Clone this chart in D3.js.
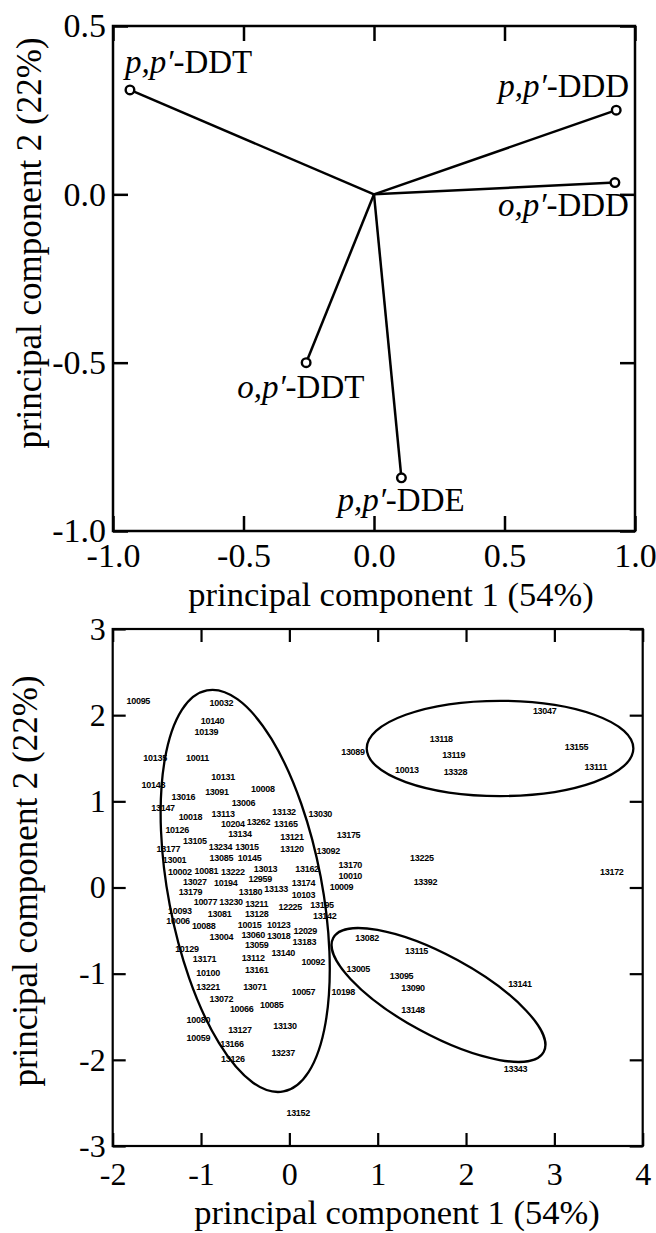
<!DOCTYPE html>
<html>
<head>
<meta charset="utf-8">
<script src="https://cdn.jsdelivr.net/npm/d3@7"></script>
<style>
  html, body { margin: 0; padding: 0; background: #fff; }
  svg text { fill: #000; }
</style>
</head>
<body>
<div id="viz"></div>
<script>
// PCA loadings of the five DDT-related compounds
const compounds = ["p,p′-DDT", "p,p′-DDD", "o,p′-DDD", "o,p′-DDT", "p,p′-DDE"];
const loadPC1 = [-0.935, 0.928, 0.923, -0.26, 0.105];
const loadPC2 = [0.31, 0.25, 0.035, -0.50, -0.842];
const loadTicksX = [-1.0, -0.5, 0.0, 0.5, 1.0];
const loadTicksY = [0.5, 0.0, -0.5, -1.0];

// PCA scores of the samples
const sampleIds = [
  "10095","10032","10140","10139","10135","10011","10131","10148","13091","10008",
  "13016","13006","13147","10018","13113","13132","13030","10204","13262","13165",
  "10126","13134","13121","13175","13105","13177","13234","13015","13120","13092",
  "13001","13085","10145","13013","13170","13162","10010","10002","10081","13222",
  "12959","13027","10194","13174","10009","13179","13180","13133","13230","10103",
  "13195","13142","10077","13211","12225","10093","13081","13128","10006","10015",
  "10123","10088","13004","13060","13018","12029","13059","13183","13140","10129",
  "13171","13112","10092","10100","13161","13221","13071","10057","10198","13072",
  "10066","10085","10080","13130","13127","10059","13166","13126","13237","13152",
  "13089","13118","13119","10013","13328","13047","13155","13111","13225","13392",
  "13172","13082","13115","13005","13095","13090","13148","13141","13343"
];
const scorePC1 = [
  -1.71,-0.77,-0.87,-0.94,-1.52,-1.04,-0.75,-1.54,-0.82,-0.30,
  -1.20,-0.52,-1.43,-1.12,-0.75,-0.06,0.35,-0.64,-0.35,-0.04,
  -1.27,-0.56,0.03,0.67,-1.07,-1.37,-0.78,-0.48,0.03,0.44,
  -1.30,-0.77,-0.45,-0.27,0.69,0.20,0.69,-1.24,-0.94,-0.64,
  -0.33,-1.07,-0.72,0.16,0.59,-1.12,-0.44,-0.15,-0.66,0.16,
  0.37,0.40,-0.95,-0.37,0.01,-1.24,-0.79,-0.37,-1.26,-0.45,
  -0.12,-0.97,-0.77,-0.41,-0.12,0.18,-0.37,0.17,-0.07,-1.16,
  -0.96,-0.41,0.27,-0.92,-0.37,-0.92,-0.39,0.16,0.61,-0.77,
  -0.54,-0.20,-1.03,-0.05,-0.56,-1.03,-0.65,-0.64,-0.07,0.10,
  0.72,1.72,1.86,1.33,1.88,2.89,3.25,3.47,1.50,1.54,
  3.65,0.88,1.44,0.78,1.27,1.40,1.40,2.61,2.56
];
const scorePC2 = [
  2.17,2.14,1.93,1.81,1.50,1.51,1.28,1.19,1.11,1.15,
  1.05,0.98,0.92,0.82,0.86,0.88,0.85,0.74,0.76,0.74,
  0.67,0.62,0.59,0.61,0.54,0.45,0.47,0.47,0.45,0.43,
  0.32,0.34,0.345,0.22,0.26,0.22,0.13,0.18,0.19,0.18,
  0.10,0.07,0.05,0.05,0.01,-0.05,-0.05,-0.02,-0.17,-0.08,
  -0.20,-0.33,-0.17,-0.19,-0.22,-0.27,-0.30,-0.31,-0.39,-0.43,
  -0.43,-0.45,-0.57,-0.55,-0.56,-0.50,-0.67,-0.63,-0.76,-0.71,
  -0.83,-0.82,-0.86,-0.99,-0.96,-1.15,-1.15,-1.21,-1.21,-1.29,
  -1.41,-1.36,-1.54,-1.60,-1.65,-1.75,-1.81,-1.99,-1.92,-2.62,
  1.58,1.72,1.54,1.37,1.34,2.05,1.63,1.40,0.34,0.07,
  0.18,-0.59,-0.73,-0.94,-1.02,-1.17,-1.42,-1.12,-2.10
];
const scoreTicksX = [-2, -1, 0, 1, 2, 3, 4];
const scoreTicksY = [3, 2, 1, 0, -1, -2, -3];

// group ellipses: centre, semi-axes (score units), rotation in degrees
const ellCx = [-0.50, 2.385, 1.688];
const ellCy = [-0.04, 1.614, -1.247];
const ellA = [2.34, 1.528, 1.372];
const ellB = [0.88, 0.546, 0.455];
const ellAngle = [79.2, 0, 28.5];

const serif = "'Liberation Serif', 'Times New Roman', serif";

const svg = d3.select("#viz").append("svg")
  .attr("width", 656)
  .attr("height", 1233);

// ---------- loadings plot ----------
const x1 = d3.scaleLinear().domain([-1, 1]).range([113, 635]);
const y1 = d3.scaleLinear().domain([-1, 0.5]).range([531, 26]);
const fmt1 = d => d.toFixed(1);

const gTop = svg.append("g");

gTop.append("g")
  .attr("transform", `translate(0,${y1(-1)})`)
  .call(d3.axisBottom(x1).tickValues(loadTicksX).tickFormat(fmt1).tickSizeInner(-15).tickSizeOuter(0).tickPadding(12));
gTop.append("g")
  .attr("transform", `translate(0,${y1(0.5)})`)
  .call(d3.axisTop(x1).tickValues(loadTicksX).tickFormat("").tickSizeInner(-15).tickSizeOuter(0));
gTop.append("g")
  .attr("transform", `translate(${x1(-1)},0)`)
  .call(d3.axisLeft(y1).tickValues(loadTicksY).tickFormat(fmt1).tickSizeInner(-15).tickSizeOuter(0).tickPadding(7));
gTop.append("g")
  .attr("transform", `translate(${x1(1)},0)`)
  .call(d3.axisRight(y1).tickValues(loadTicksY).tickFormat("").tickSizeInner(-15).tickSizeOuter(0));

gTop.selectAll(".domain").remove();
gTop.selectAll(".tick line").attr("stroke", "#000").attr("stroke-width", 2.5);
gTop.selectAll(".tick text").attr("font-family", serif).attr("font-size", 34).attr("fill", "#000");

gTop.append("rect")
  .attr("x", x1(-1)).attr("y", y1(0.5))
  .attr("width", x1(1) - x1(-1)).attr("height", y1(-1) - y1(0.5))
  .attr("fill", "none").attr("stroke", "#000").attr("stroke-width", 2.5);

gTop.selectAll("line.vec")
  .data(compounds)
  .join("line")
  .attr("class", "vec")
  .attr("x1", x1(0)).attr("y1", y1(0))
  .attr("x2", (d, i) => x1(loadPC1[i]))
  .attr("y2", (d, i) => y1(loadPC2[i]))
  .attr("stroke", "#000").attr("stroke-width", 2.5);

gTop.selectAll("circle")
  .data(compounds)
  .join("circle")
  .attr("cx", (d, i) => x1(loadPC1[i]))
  .attr("cy", (d, i) => y1(loadPC2[i]))
  .attr("r", 4.3)
  .attr("fill", "#fff").attr("stroke", "#000").attr("stroke-width", 2.4);

// label placement relative to each vector tip
const labelDx = [-5, 13, 14, -69, -64];
const labelDy = [-17, -13, 33, 35, 33];
const labelAnchor = ["start", "end", "end", "start", "start"];

const labels = gTop.selectAll("text.cmp")
  .data(compounds)
  .join("text")
  .attr("class", "cmp")
  .attr("x", (d, i) => x1(loadPC1[i]) + labelDx[i])
  .attr("y", (d, i) => y1(loadPC2[i]) + labelDy[i])
  .attr("text-anchor", (d, i) => labelAnchor[i])
  .attr("font-family", serif)
  .attr("font-size", 33);
labels.append("tspan").attr("font-style", "italic").text(d => d.split("-")[0]);
labels.append("tspan").text(d => "-" + d.split("-")[1]);

gTop.append("text")
  .attr("x", 391).attr("y", 606)
  .attr("text-anchor", "middle")
  .attr("font-family", serif).attr("font-size", 34.5)
  .text("principal component 1 (54%)");
gTop.append("text")
  .attr("transform", "translate(41,243) rotate(-90)")
  .attr("text-anchor", "middle")
  .attr("font-family", serif).attr("font-size", 35)
  .text("principal component 2 (22%)");

// ---------- score plot ----------
const x2 = d3.scaleLinear().domain([-2, 4]).range([112.7, 642.7]);
const y2 = d3.scaleLinear().domain([-3, 3]).range([1146, 629]);
const fmt2 = d => String(d);

const gBot = svg.append("g");

gBot.append("g")
  .attr("transform", `translate(0,${y2(-3)})`)
  .call(d3.axisBottom(x2).tickValues(scoreTicksX).tickFormat(fmt2).tickSizeInner(-13).tickSizeOuter(0).tickPadding(16));
gBot.append("g")
  .attr("transform", `translate(0,${y2(3)})`)
  .call(d3.axisTop(x2).tickValues(scoreTicksX).tickFormat("").tickSizeInner(-13).tickSizeOuter(0));
gBot.append("g")
  .attr("transform", `translate(${x2(-2)},0)`)
  .call(d3.axisLeft(y2).tickValues(scoreTicksY).tickFormat(fmt2).tickSizeInner(-13).tickSizeOuter(0).tickPadding(7));
gBot.append("g")
  .attr("transform", `translate(${x2(4)},0)`)
  .call(d3.axisRight(y2).tickValues(scoreTicksY).tickFormat("").tickSizeInner(-13).tickSizeOuter(0));

gBot.selectAll(".domain").remove();
gBot.selectAll(".tick line").attr("stroke", "#000").attr("stroke-width", 2.2);
gBot.selectAll(".tick text").attr("font-family", serif).attr("font-size", 32).attr("fill", "#000");

gBot.append("rect")
  .attr("x", x2(-2)).attr("y", y2(3))
  .attr("width", x2(4) - x2(-2)).attr("height", y2(-3) - y2(3))
  .attr("fill", "none").attr("stroke", "#000").attr("stroke-width", 2.2);

const unit = ((x2(1) - x2(0)) + (y2(0) - y2(1))) / 2;
gBot.selectAll("ellipse")
  .data(ellCx)
  .join("ellipse")
  .attr("transform", (d, i) => `translate(${x2(ellCx[i])},${y2(ellCy[i])}) rotate(${ellAngle[i]})`)
  .attr("rx", (d, i) => ellA[i] * unit)
  .attr("ry", (d, i) => ellB[i] * unit)
  .attr("fill", "none").attr("stroke", "#000").attr("stroke-width", 2.3);

gBot.selectAll("text.sample")
  .data(sampleIds)
  .join("text")
  .attr("class", "sample")
  .attr("x", (d, i) => x2(scorePC1[i]))
  .attr("y", (d, i) => y2(scorePC2[i]))
  .attr("dy", "0.35em")
  .attr("text-anchor", "middle")
  .attr("font-family", "'Liberation Sans', Arial, sans-serif")
  .attr("font-weight", "bold")
  .attr("font-size", 9)
  .attr("letter-spacing", -0.3)
  .text(d => d);

gBot.append("text")
  .attr("x", 397).attr("y", 1224)
  .attr("text-anchor", "middle")
  .attr("font-family", serif).attr("font-size", 34.5)
  .text("principal component 1 (54%)");
gBot.append("text")
  .attr("transform", "translate(37,881) rotate(-90)")
  .attr("text-anchor", "middle")
  .attr("font-family", serif).attr("font-size", 35)
  .text("principal component 2 (22%)");
</script>
</body>
</html>
